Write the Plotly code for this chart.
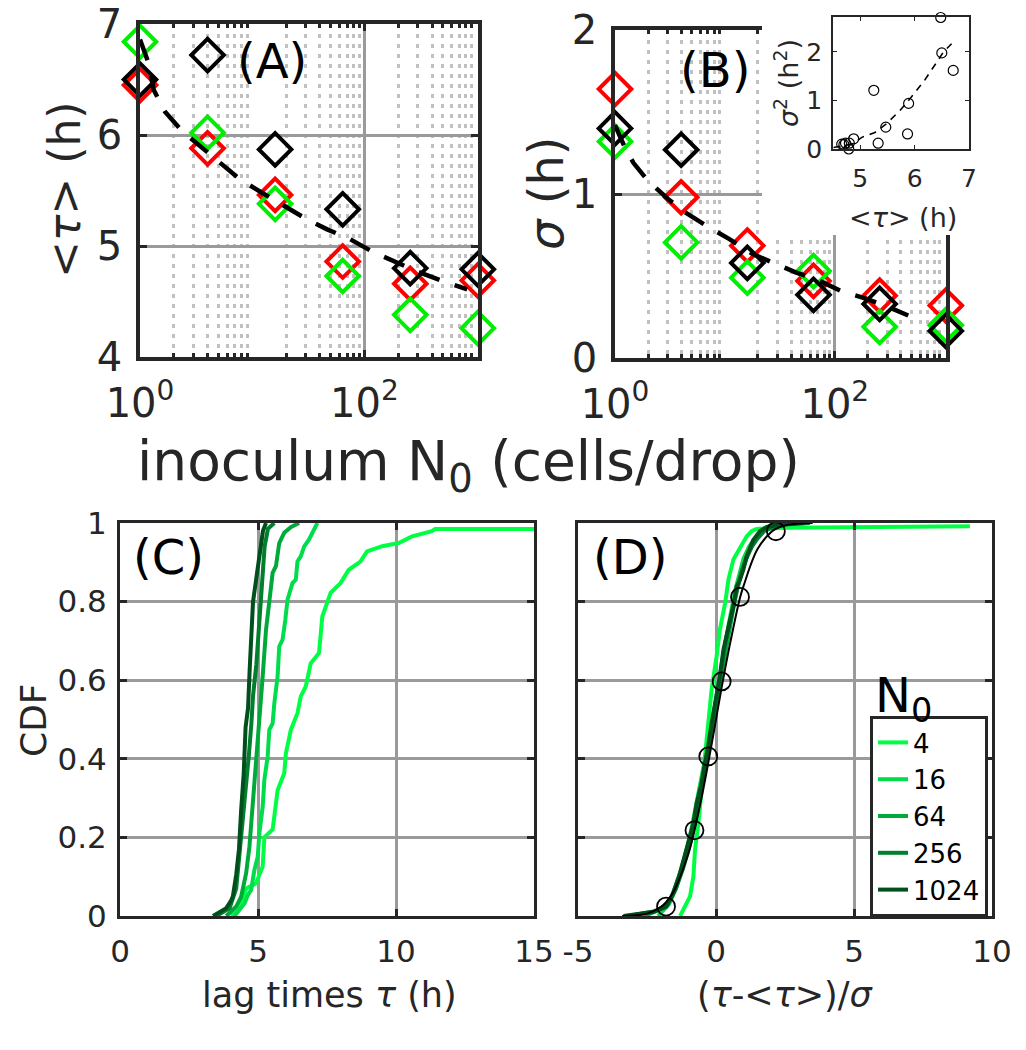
import plotly.graph_objects as go

# ---------------- data ----------------
N0 = [1, 4, 16, 64, 256, 1024]
A_red = [6.45, 5.88, 5.46, 4.86, 4.66, 4.69]
A_green = [6.84, 6.02, 5.38, 4.73, 4.38, 4.26]
A_black = [6.50, 6.72, 5.87, 5.33, 4.80, 4.79]
B_red = [1.64, 0.98, 0.685, 0.47, 0.38, 0.32]
B_green = [1.32, 0.705, 0.49, 0.53, 0.19, 0.20]
B_black = [1.40, 1.27, 0.58, 0.385, 0.33, 0.165]

A_fit_N = [1, 1.19, 1.32, 1.67, 2.4, 3.43, 5.0, 7.8, 12.2, 19.7, 29.6, 46.5, 75, 117, 195, 295, 510, 823]
A_fit_tau = [6.86, 6.65, 6.41, 6.21, 6.03, 5.90, 5.75, 5.60, 5.48, 5.36, 5.25, 5.15, 5.06, 4.95, 4.85, 4.77, 4.68, 4.61]
B_fit_N = [1, 1.2, 1.47, 2.0, 3.04, 4.3, 7.0, 11.0, 17.9, 27.1, 44, 66.8, 112, 176, 287, 466]
B_fit_sigma = [1.42, 1.30, 1.19, 1.08, 0.97, 0.89, 0.80, 0.725, 0.634, 0.583, 0.522, 0.482, 0.411, 0.370, 0.320, 0.259]

inset_tau = [6.48, 6.50, 6.71, 5.25, 5.89, 5.47, 5.87, 5.33, 4.88, 4.70, 4.79, 4.66, 4.73, 4.80]
inset_var = [2.71, 1.98, 1.62, 1.21, 0.94, 0.45, 0.31, 0.12, 0.21, 0.09, 0.00, 0.10, 0.12, 0.12]
inset_fit_tau = [4.51, 4.85, 5.03, 5.27, 5.48, 5.73, 5.94, 6.18, 6.39, 6.53, 6.68]
inset_fit_var = [0.03, 0.10, 0.24, 0.34, 0.52, 0.79, 1.07, 1.41, 1.76, 2.00, 2.17]

legend_names = ["4", "16", "64", "256", "1024"]
curve_colors = ["#00ff44", "#00dd4c", "#00aa3a", "#00802c", "#004f1c"]

C_tau = [
    [4.03, 4.33, 4.57, 4.93, 5.17, 5.23, 5.53, 5.71, 5.95, 6.01, 6.19, 6.43, 6.55, 6.73, 6.91, 7.21, 7.33, 7.63, 7.99, 8.29, 8.71, 8.95, 9.5, 10.1, 10.58, 11.3, 11.42, 16.0],
    [4.15, 4.33, 4.51, 4.63, 4.75, 4.87, 4.99, 5.05, 5.17, 5.23, 5.35, 5.41, 5.53, 5.59, 5.71, 5.77, 5.89, 5.99, 6.07, 6.25, 6.37, 6.43, 6.55, 6.67, 6.85, 7.15],
    [3.85, 4.21, 4.39, 4.57, 4.69, 4.81, 4.93, 5.05, 5.17, 5.29, 5.41, 5.53, 5.65, 5.77, 5.95, 6.2, 6.49],
    [3.49, 3.97, 4.21, 4.33, 4.45, 4.58, 4.67, 4.76, 4.82, 4.94, 5.04, 5.12, 5.24, 5.36, 5.59],
    [3.37, 3.85, 4.03, 4.09, 4.21, 4.31, 4.39, 4.48, 4.55, 4.64, 4.70, 4.76, 4.82, 4.92, 5.06, 5.18, 5.29],
]
C_cdf = [
    [0, 0.02, 0.07, 0.083, 0.126, 0.2, 0.22, 0.32, 0.363, 0.414, 0.474, 0.516, 0.559, 0.584, 0.643, 0.669, 0.762, 0.822, 0.847, 0.881, 0.902, 0.928, 0.941, 0.949, 0.966, 0.979, 0.985, 0.985],
    [0, 0.017, 0.032, 0.053, 0.066, 0.117, 0.151, 0.21, 0.278, 0.346, 0.406, 0.474, 0.49, 0.54, 0.61, 0.686, 0.703, 0.754, 0.805, 0.847, 0.856, 0.902, 0.915, 0.94, 0.958, 1.0],
    [0, 0.024, 0.049, 0.109, 0.177, 0.28, 0.39, 0.49, 0.61, 0.728, 0.813, 0.873, 0.89, 0.949, 0.975, 0.99, 1.0],
    [0, 0.02, 0.07, 0.155, 0.235, 0.33, 0.41, 0.49, 0.56, 0.64, 0.73, 0.82, 0.94, 0.985, 1.0],
    [0, 0.02, 0.04, 0.05, 0.105, 0.17, 0.27, 0.36, 0.48, 0.53, 0.63, 0.71, 0.8, 0.85, 0.93, 0.98, 1.0],
]

D_z = [
    [-1.3, -1.1, -0.94, -0.82, -0.76, -0.64, -0.52, -0.4, -0.28, -0.16, 0.02, 0.14, 0.33, 0.45, 0.63, 0.87, 1.11, 1.29, 1.47, 2.5, 5.0, 9.2],
    [-2.1, -1.7, -1.45, -1.2, -0.95, -0.75, -0.55, -0.35, -0.2, -0.05, 0.1, 0.25, 0.4, 0.55, 0.7, 0.85, 1.0, 1.2, 1.4, 1.65, 2.0, 2.5],
    [-2.6, -1.9, -1.6, -1.35, -1.1, -0.85, -0.65, -0.45, -0.3, -0.15, 0.0, 0.15, 0.3, 0.45, 0.6, 0.75, 0.9, 1.05, 1.2, 1.4, 1.6, 1.9, 2.3, 2.9],
    [-3.2, -2.2, -1.75, -1.45, -1.2, -0.95, -0.75, -0.6, -0.45, -0.3, -0.18, -0.05, 0.1, 0.22, 0.35, 0.5, 0.65, 0.8, 0.95, 1.1, 1.3, 1.5, 1.75, 2.1, 2.6, 3.4],
    [-3.35, -2.3, -1.8, -1.55, -1.3, -1.06, -0.82, -0.7, -0.52, -0.4, -0.28, -0.16, 0.02, 0.14, 0.27, 0.45, 0.63, 0.75, 0.87, 0.99, 1.11, 1.23, 1.35, 1.59, 1.84, 2.32, 3.2],
]
D_cdf = [
    [0.0, 0.03, 0.05, 0.1, 0.168, 0.236, 0.32, 0.406, 0.49, 0.576, 0.66, 0.728, 0.796, 0.856, 0.907, 0.937, 0.966, 0.979, 0.985, 0.988, 0.99, 0.992],
    [0.0, 0.03, 0.07, 0.13, 0.2, 0.27, 0.34, 0.41, 0.47, 0.53, 0.6, 0.66, 0.72, 0.78, 0.83, 0.87, 0.91, 0.94, 0.96, 0.98, 0.995, 1.0],
    [0.0, 0.02, 0.05, 0.1, 0.16, 0.22, 0.29, 0.36, 0.42, 0.48, 0.54, 0.6, 0.66, 0.72, 0.78, 0.83, 0.87, 0.9, 0.93, 0.955, 0.975, 0.99, 0.997, 1.0],
    [0.0, 0.012, 0.03, 0.07, 0.12, 0.18, 0.24, 0.3, 0.35, 0.41, 0.46, 0.52, 0.58, 0.64, 0.7, 0.75, 0.8, 0.84, 0.88, 0.91, 0.94, 0.96, 0.98, 0.99, 0.997, 1.0],
    [0.0, 0.01, 0.024, 0.058, 0.109, 0.168, 0.236, 0.287, 0.338, 0.389, 0.431, 0.49, 0.559, 0.61, 0.678, 0.728, 0.788, 0.839, 0.856, 0.881, 0.915, 0.936, 0.957, 0.979, 0.99, 0.996, 1.0],
]

D_ref_z = [-3.4, -3.0, -2.5, -2.0, -1.81, -1.5, -1.0, -0.78, -0.5, -0.28, 0.0, 0.2, 0.5, 0.87, 1.0, 1.5, 2.0, 2.17, 2.5, 3.0, 3.5]
D_ref_cdf = [0.0003, 0.0013, 0.006, 0.023, 0.035, 0.067, 0.159, 0.218, 0.309, 0.39, 0.5, 0.58, 0.69, 0.81, 0.84, 0.933, 0.977, 0.985, 0.994, 0.9987, 0.9998]
D_circ_z = [-1.81, -0.78, -0.28, 0.205, 0.87, 2.17]
D_circ_cdf = [0.024, 0.218, 0.406, 0.597, 0.812, 0.979]

# ---------------- helpers ----------------
W, H = 1026, 1050
FONT = "DejaVu Sans, Liberation Sans, Arial, sans-serif"
AX = "#262626"


def px(x):
    return x / W


def py(y):
    return 1 - y / H


def dom_x(a, b):
    return [px(a), px(b)]


def dom_y(top, bottom):
    return [py(bottom), py(top)]


fig = go.Figure()

# Panel A
for vals, col in [(A_red, "#ff0000"), (A_green, "#00ee00"), (A_black, "#000000")]:
    fig.add_trace(go.Scatter(x=N0, y=vals, mode="markers", xaxis="x", yaxis="y", showlegend=False, cliponaxis=False,
                             marker=dict(symbol="diamond-open", size=25, line=dict(width=4, color=col), color=col)))
fig.add_trace(go.Scatter(x=A_fit_N, y=A_fit_tau, mode="lines", xaxis="x", yaxis="y", showlegend=False,
                         line=dict(color="black", width=4.5, dash="22px,16px")))

# Panel B
for vals, col in [(B_red, "#ff0000"), (B_green, "#00ee00"), (B_black, "#000000")]:
    fig.add_trace(go.Scatter(x=N0, y=vals, mode="markers", xaxis="x2", yaxis="y2", showlegend=False, cliponaxis=False,
                             marker=dict(symbol="diamond-open", size=25, line=dict(width=4, color=col), color=col)))
fig.add_trace(go.Scatter(x=B_fit_N, y=B_fit_sigma, mode="lines", xaxis="x2", yaxis="y2", showlegend=False,
                         line=dict(color="black", width=4.5, dash="22px,16px")))

# Panel C
for i in range(5):
    fig.add_trace(go.Scatter(x=C_tau[i], y=C_cdf[i], mode="lines", xaxis="x3", yaxis="y3", showlegend=False,
                             line=dict(color=curve_colors[i], width=4)))

# Panel D
for i in range(5):
    fig.add_trace(go.Scatter(x=D_z[i], y=D_cdf[i], mode="lines", xaxis="x4", yaxis="y4", name=legend_names[i],
                             showlegend=True, line=dict(color=curve_colors[i], width=4)))
fig.add_trace(go.Scatter(x=D_ref_z, y=D_ref_cdf, mode="lines", xaxis="x4", yaxis="y4", showlegend=False,
                         line=dict(color="black", width=2), line_shape="spline"))
fig.add_trace(go.Scatter(x=D_circ_z, y=D_circ_cdf, mode="markers", xaxis="x4", yaxis="y4", showlegend=False,
                         cliponaxis=False,
                         marker=dict(symbol="circle-open", size=18, color="black", line=dict(width=1.8, color="black"))))

# white patch subplot (covers upper right part of panel B)
fig.add_trace(go.Scatter(x=[None], y=[None], xaxis="x5", yaxis="y5", showlegend=False, hoverinfo="skip"))

# Inset
fig.add_trace(go.Scatter(x=inset_fit_tau, y=inset_fit_var, mode="lines", xaxis="x6", yaxis="y6", showlegend=False,
                         line=dict(color="black", width=1.6, dash="7px,6px")))
fig.add_trace(go.Scatter(x=inset_tau, y=inset_var, mode="markers", xaxis="x6", yaxis="y6", showlegend=False,
                         cliponaxis=False,
                         marker=dict(symbol="circle-open", size=10, color="black", line=dict(width=1.2, color="black"))))

base = dict(showline=True, linecolor=AX, linewidth=3, mirror="ticks", ticks="inside", ticklen=7,
            tickwidth=2.5, tickcolor=AX, showgrid=True, gridcolor="#9a9a9a", gridwidth=2.5,
            zeroline=False, fixedrange=True, automargin=False, ticklabeloverflow="allow")

minor_vals = [2, 3, 4, 5, 6, 7, 8, 9, 20, 30, 40, 50, 60, 70, 80, 90, 200, 300, 400, 500, 600, 700, 800, 900]
logx = dict(base, type="log", range=[0, 3.012], tickvals=[1, 100], linewidth=3.5,
            ticktext=["10<sup>0</sup>", "10<sup>2</sup>"],
            tickfont=dict(family=FONT, size=40, color=AX), ticklabelstandoff=8,
            minor=dict(tickvals=minor_vals, showgrid=True, gridcolor="#c0c0c0", gridwidth=3,
                       griddash="4px,6px", ticks="inside", ticklen=4, tickcolor=AX))

inset_base = dict(showline=True, linecolor=AX, linewidth=1.5, mirror="ticks", ticks="inside", ticklen=4,
                  tickwidth=1, tickcolor=AX, showgrid=False, zeroline=False, fixedrange=True,
                  automargin=False, ticklabeloverflow="allow", tickfont=dict(family=FONT, size=25, color=AX))

fig.update_layout(
    width=W, height=H, margin=dict(l=0, r=0, t=0, b=0, pad=0, autoexpand=False),
    paper_bgcolor="white", plot_bgcolor="white",
    xaxis=dict(logx, domain=dom_x(140, 478), anchor="y"),
    yaxis=dict(base, domain=dom_y(24, 357), anchor="x", range=[4, 7], tickvals=[4, 5, 6, 7], linewidth=3.5,
               tickfont=dict(family=FONT, size=40, color=AX), ticklabelstandoff=6),
    xaxis2=dict(logx, domain=dom_x(615, 946), anchor="y2"),
    yaxis2=dict(base, domain=dom_y(30, 358), anchor="x2", range=[0, 2], tickvals=[0, 1, 2], linewidth=3.5,
                tickfont=dict(family=FONT, size=40, color=AX), ticklabelstandoff=6),
    xaxis3=dict(base, domain=dom_x(120, 534), anchor="y3", range=[0, 15], tickvals=[0, 5, 10, 15],
                tickfont=dict(family=FONT, size=31, color=AX), ticklabelstandoff=6),
    yaxis3=dict(base, domain=dom_y(523, 916), anchor="x3", range=[0, 1], tickvals=[0, 0.2, 0.4, 0.6, 0.8, 1],
                ticktext=["0", "0.2", "0.4", "0.6", "0.8", "1"],
                tickfont=dict(family=FONT, size=31, color=AX), ticklabelstandoff=4),
    xaxis4=dict(base, domain=dom_x(578, 992), anchor="y4", range=[-5, 10], tickvals=[-5, 0, 5, 10],
                ticktext=["-5", "0", "5", "10"],
                tickfont=dict(family=FONT, size=31, color=AX), ticklabelstandoff=6),
    yaxis4=dict(base, domain=dom_y(523, 916), anchor="x4", range=[0, 1], tickvals=[0, 0.2, 0.4, 0.6, 0.8, 1],
                showticklabels=False),
    xaxis5=dict(domain=dom_x(762, 1026), anchor="y5", visible=False, range=[0, 1], fixedrange=True),
    yaxis5=dict(domain=dom_y(0, 235), anchor="x5", visible=False, range=[0, 1], fixedrange=True),
    xaxis6=dict(inset_base, domain=dom_x(833, 969), anchor="y6", range=[4.5, 7], tickvals=[5, 6, 7],
                ticklabelstandoff=6),
    yaxis6=dict(inset_base, domain=dom_y(17, 149), anchor="x6", range=[0, 2.72], tickvals=[0, 1, 2],
                ticklabelstandoff=4),
    legend=dict(x=px(870), y=py(716), xanchor="left", yanchor="top", bgcolor="white",
                bordercolor=AX, borderwidth=3, font=dict(family=FONT, size=26, color="black"),
                tracegroupgap=0, itemwidth=30),
    font=dict(family=FONT, color="black"),
)


def ann(text, x, y, size, angle=0, color="black"):
    fig.add_annotation(text=text, x=px(x), y=py(y), xref="paper", yref="paper", showarrow=False,
                       xanchor="center", yanchor="middle", textangle=angle,
                       font=dict(family=FONT, size=size, color=color))


ann("&lt;<i>τ</i>&gt; (h)", 64, 190, 44, -90, AX)
ann("<i>σ</i> (h)", 546, 193, 48, -90, AX)
ann("inoculum N<sub>0</sub> (cells/drop)", 468, 465, 55, 0, AX)
ann("(A)", 272, 61, 48)
ann("(B)", 715, 70, 48)
ann("&lt;<i>τ</i>&gt; (h)", 903, 218, 27, 0, AX)
ann("<i>σ</i><sup>2</sup> (h<sup>2</sup>)", 787, 83, 27, -90, AX)
ann("CDF", 33, 720, 36, -90, AX)
ann("lag times <i>τ</i> (h)", 329, 995, 35, 0, AX)
ann("(<i>τ</i>-&lt;<i>τ</i>&gt;)/<i>σ</i>", 785, 995, 35, 0, AX)
ann("(C)", 168, 557, 48)
ann("(D)", 630, 557, 48)
ann("N<sub>0</sub>", 903, 698, 48)

fig.write_html("out.html")
